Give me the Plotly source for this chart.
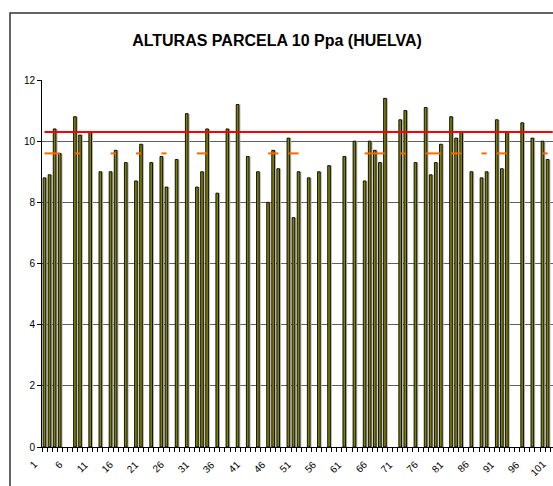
import plotly.graph_objects as go

# Categories (plant number) 1..101
categorias = list(range(1, 102))

# Heights (None = no bar)
alturas = [
    8.8, 8.9, 10.4, 9.6, None, None, 10.8, 10.2, None, 10.3,      # 1-10
    None, 9.0, None, 9.0, 9.7, None, 9.3, None, 8.7, 9.9,         # 11-20
    None, 9.3, None, 9.5, 8.5, None, 9.4, None, 10.9, None,       # 21-30
    8.5, 9.0, 10.4, None, 8.3, None, 10.4, None, 11.2, None,      # 31-40
    9.5, None, 9.0, None, 8.0, 9.7, 9.1, None, 10.1, 7.5,         # 41-50
    9.0, None, 8.8, None, 9.0, None, 9.2, None, None, 9.5,        # 51-60
    None, 10.0, None, 8.7, 10.0, 9.7, 9.3, 11.4, None, None,      # 61-70
    10.7, 11.0, None, 9.3, None, 11.1, 8.9, 9.3, 9.9, None,       # 71-80
    10.8, 10.1, 10.3, None, 9.0, None, 8.8, 9.0, None, 10.7,      # 81-90
    9.1, 10.3, None, None, 10.6, None, 10.1, None, 10.0, 9.4,     # 91-100
    None,                                                          # 101
]

# Reference lines
LIMITE = 10.3   # red line, all categories
MEDIA = 9.6     # orange line, only where there is a bar
serie_limite = [LIMITE for _ in categorias]
serie_media = [MEDIA if v is not None else None for v in alturas]

# Tick labels
ticks_x = list(range(1, 102, 5))
etiquetas_x = [str(t) for t in ticks_x]
ticks_y = [0, 2, 4, 6, 8, 10, 12]
etiquetas_y = [str(t) for t in ticks_y]

FONT = "Liberation Sans, Arial, sans-serif"

fig = go.Figure()

# shadow of bars
fig.add_trace(go.Bar(
    x=categorias, y=alturas, width=0.52, offset=0.02,
    marker=dict(color="#b4b4b4", line=dict(width=0)),
    hoverinfo="skip", showlegend=False,
))
# bars
fig.add_trace(go.Bar(
    x=categorias, y=alturas, width=0.52, offset=-0.28,
    marker=dict(color="#808000", line=dict(color="black", width=0.9)),
    showlegend=False,
))
# red limit line
fig.add_trace(go.Scatter(
    x=categorias, y=serie_limite, mode="lines",
    line=dict(color="#ff0000", width=2), showlegend=False,
))
# orange mean line (broken where no data)
fig.add_trace(go.Scatter(
    x=categorias, y=serie_media, mode="lines", connectgaps=False,
    line=dict(color="#ff6600", width=2), showlegend=False,
))

# rotated category labels (Excel style: text ends just left of the category)
etiquetas_anot = [
    dict(x=t, y=0, xref="x", yref="y", text=s, showarrow=False,
         textangle=-45, xanchor="right", yanchor="top",
         xshift=-2, yshift=-9,
         font=dict(family=FONT, size=10, color="black"))
    for t, s in zip(ticks_x, etiquetas_x)
]

fig.update_layout(
    width=553, height=486, autosize=False,
    margin=dict(l=42, r=0, t=80, b=39, autoexpand=False),
    paper_bgcolor="white", plot_bgcolor="white",
    barmode="overlay",
    title=dict(text="<b>ALTURAS PARCELA 10 Ppa (HUELVA)</b>",
               xref="container", x=0.501, xanchor="center",
               yref="container", y=1 - 40 / 486, yanchor="middle",
               font=dict(family=FONT, size=16, color="black")),
    font=dict(family=FONT, size=10, color="black"),
    annotations=etiquetas_anot,
    shapes=[dict(type="rect", xref="paper", yref="paper",
                 x0=-0.0626, x1=1.2, y0=-0.3, y1=1.1826,
                 line=dict(color="#333333", width=1.5), layer="below")],
)

fig.update_xaxes(
    range=[0.5, 101.05], tickmode="array",
    tickvals=ticks_x, showticklabels=False,
    ticks="", automargin=False,
    showgrid=False, zeroline=False,
    showline=True, linecolor="black", linewidth=1,
    minor=dict(ticks="outside", tick0=0.5, dtick=1, ticklen=4,
               tickcolor="black", tickwidth=1, showgrid=False),
)
fig.update_yaxes(
    range=[0, 12], tickmode="array", tickvals=ticks_y, ticktext=etiquetas_y,
    ticks="outside", ticklen=4, tickcolor="black", automargin=False,
    tickfont=dict(family=FONT, size=10, color="black"),
    showgrid=True, gridcolor="#606060", gridwidth=1,
    zeroline=False, showline=True, linecolor="black", linewidth=1,
)

fig.write_html(
    "out.html",
    config={"displayModeBar": False},
    post_script="document.body.style.margin='0';"
                "document.body.style.overflow='hidden';",
)
